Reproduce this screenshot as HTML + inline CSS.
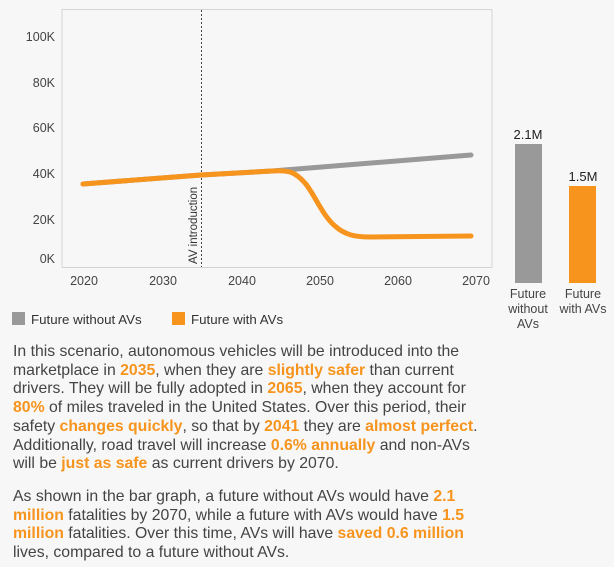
<!DOCTYPE html>
<html><head><meta charset="utf-8"><style>
body{margin:0;width:614px;height:567px;background:#f7f7f7;font-family:"Liberation Sans",Arial,sans-serif;overflow:hidden;position:relative}
.t{position:absolute;left:13px;font-size:15.8px;line-height:18.7px;color:#444;white-space:nowrap}
.t b{color:#f7941d}
</style></head><body>
<svg width="614" height="340" style="position:absolute;left:0;top:0" font-family="Liberation Sans, Arial, sans-serif">
<rect x="62" y="9.5" width="430" height="258" fill="#f7f7f7" stroke="#d4d4d4" stroke-width="1"/>
<g font-size="12.5" fill="#444" text-anchor="end">
<text x="55" y="41">100K</text><text x="55" y="87">80K</text><text x="55" y="132">60K</text>
<text x="55" y="178">40K</text><text x="55" y="224">20K</text><text x="55" y="263">0K</text>
</g>
<g font-size="12.5" fill="#444" text-anchor="middle">
<text x="84" y="285">2020</text><text x="163" y="285">2030</text><text x="242" y="285">2040</text>
<text x="320" y="285">2050</text><text x="398" y="285">2060</text><text x="476" y="285">2070</text>
</g>
<line x1="201.5" y1="10" x2="201.5" y2="267" stroke="#444" stroke-width="1" stroke-dasharray="2,2"/>
<text transform="translate(197,264) rotate(-90)" font-size="11.5" fill="#333">AV introduction</text>
<polyline points="83,184 201,175 272,171 471,155" fill="none" stroke="#999" stroke-width="5" stroke-linecap="round"/>
<path d="M83,184 L201,175 L272,171 C290,170 295,172 305,183 C315,195 322,215 335,226 C345,235 355,237 370,237 L471,236" fill="none" stroke="#f7941d" stroke-width="5" stroke-linecap="round"/>
<rect x="515" y="144" width="27" height="139" fill="#999"/>
<rect x="569" y="186" width="27" height="97" fill="#f7941d"/>
<g font-size="13" fill="#222" text-anchor="middle">
<text x="528" y="139">2.1M</text><text x="583" y="181">1.5M</text>
</g>
<g font-size="12.5" fill="#444" text-anchor="middle">
<text x="528" y="298">Future</text><text x="528" y="313">without</text><text x="528" y="328">AVs</text>
<text x="583" y="298">Future</text><text x="583" y="313">with AVs</text>
</g>
<rect x="12" y="312" width="13" height="13" fill="#999"/>
<text x="31" y="324" font-size="13.3" fill="#333">Future without AVs</text>
<rect x="172" y="312" width="13" height="13" fill="#f7941d"/>
<text x="191" y="324" font-size="13.3" fill="#333">Future with AVs</text>
</svg>
<div class="t" style="top:343px">In this scenario, autonomous vehicles will be introduced into the<br>marketplace in <b>2035</b>, when they are <b>slightly safer</b> than current<br>drivers. They will be fully adopted in <b>2065</b>, when they account for<br><b>80%</b> of miles traveled in the United States. Over this period, their<br>safety <b>changes quickly</b>, so that by <b>2041</b> they are <b>almost perfect</b>.<br>Additionally, road travel will increase <b>0.6% annually</b> and non-AVs<br>will be <b>just as safe</b> as current drivers by 2070.</div>
<div class="t" style="top:488px">As shown in the bar graph, a future without AVs would have <b>2.1</b><br><b>million</b> fatalities by 2070, while a future with AVs would have <b>1.5</b><br><b>million</b> fatalities. Over this time, AVs will have <b>saved 0.6 million</b><br>lives, compared to a future without AVs.</div>
</body></html>
